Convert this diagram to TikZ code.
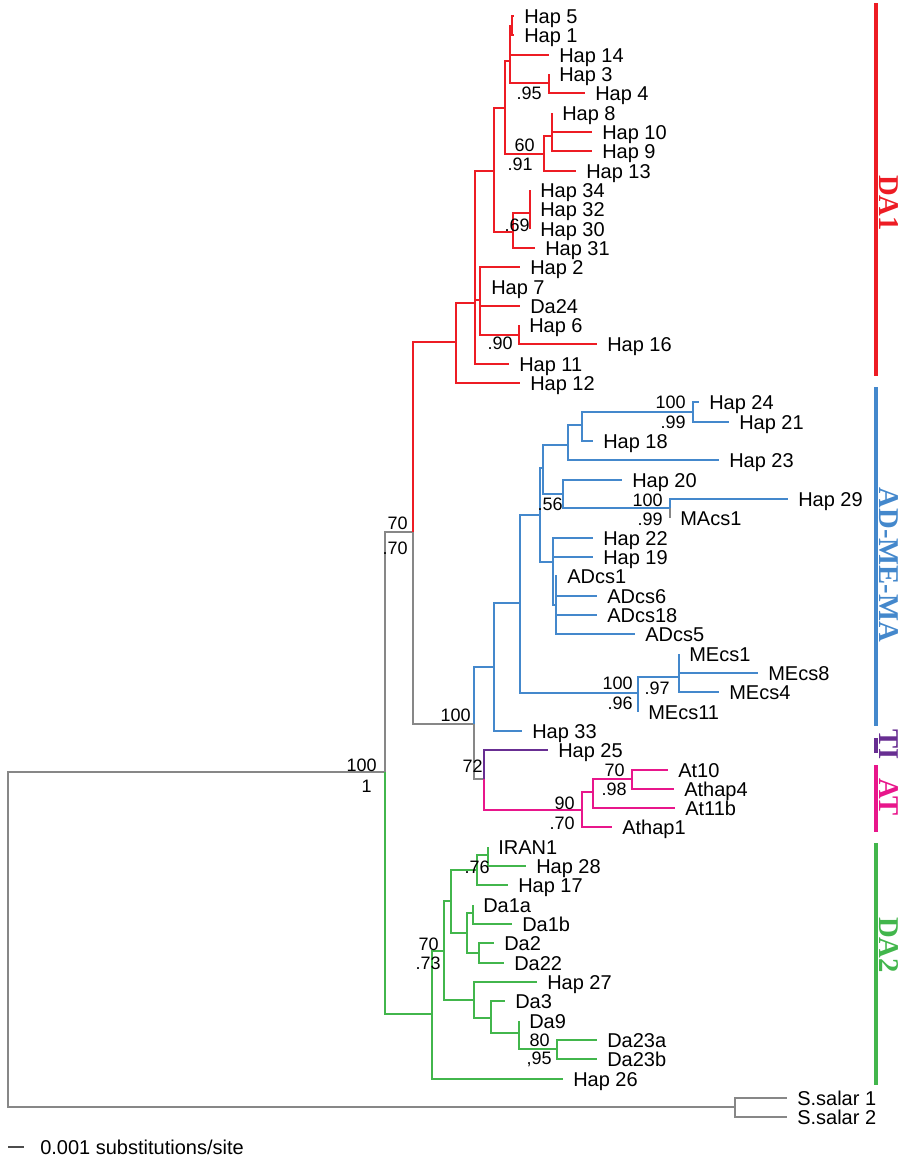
\documentclass[tikz,border=0pt]{standalone}
\usepackage{fontspec}
\setmainfont{Liberation Sans}
\newfontfamily\cladefont{Liberation Serif}
\usepackage{tikz}
\usetikzlibrary{positioning}

\definecolor{daone}{RGB}{237,28,36}
\definecolor{admema}{RGB}{68,136,204}
\definecolor{tiviolet}{RGB}{104,46,146}
\definecolor{atpink}{RGB}{232,22,139}
\definecolor{datwo}{RGB}{66,182,76}
\definecolor{outgray}{RGB}{135,135,135}

\begin{document}
\begin{tikzpicture}[x=0.75pt,y=-0.75pt,
  br/.style={line width=1.15pt},
  leaf/.style={anchor=west,inner xsep=7.5pt,inner ysep=0pt,text height=10.7pt,text depth=0pt,font=\fontsize{15}{15}\selectfont},
  boot/.style={anchor=east,inner sep=0pt,text height=9.7pt,text depth=0pt,font=\fontsize{13.5}{13.5}\selectfont},
  bar/.style={line width=3.6pt},
  clade/.style={rotate=-90,inner sep=0pt,font=\cladefont\bfseries\fontsize{21.5}{21.5}\selectfont}
]
  \useasboundingbox (0,0) rectangle (904,1161);

  % tips
  \node[leaf] (h5)   at (514,16)  {Hap 5};
  \node[leaf] (h1)   at (514,35)  {Hap 1};
  \node[leaf] (h14)  at (549,55)  {Hap 14};
  \node[leaf] (h3)   at (549,74)  {Hap 3};
  \node[leaf] (h4)   at (585,93)  {Hap 4};
  \node[leaf] (h8)   at (552,113) {Hap 8};
  \node[leaf] (h10)  at (592,132) {Hap 10};
  \node[leaf] (h9)   at (592,151) {Hap 9};
  \node[leaf] (h13)  at (576,171) {Hap 13};
  \node[leaf] (h34)  at (530,190) {Hap 34};
  \node[leaf] (h32)  at (530,209) {Hap 32};
  \node[leaf] (h30)  at (530,229) {Hap 30};
  \node[leaf] (h31)  at (535,248) {Hap 31};
  \node[leaf] (h2)   at (520,267) {Hap 2};
  \node[leaf] (h7)   at (481,287) {Hap 7};
  \node[leaf] (da24) at (520,306) {Da24};
  \node[leaf] (h6)   at (519,325) {Hap 6};
  \node[leaf] (h16)  at (597,344) {Hap 16};
  \node[leaf] (h11)  at (509,364) {Hap 11};
  \node[leaf] (h12)  at (520,383) {Hap 12};
  \node[leaf] (h24)  at (699,402) {Hap 24};
  \node[leaf] (h21)  at (729,422) {Hap 21};
  \node[leaf] (h18)  at (593,441) {Hap 18};
  \node[leaf] (h23)  at (719,460) {Hap 23};
  \node[leaf] (h20)  at (622,480) {Hap 20};
  \node[leaf] (h29)  at (788,499) {Hap 29};
  \node[leaf] (macs1) at (670,518) {MAcs1};
  \node[leaf] (h22)  at (593,538) {Hap 22};
  \node[leaf] (h19)  at (593,557) {Hap 19};
  \node[leaf] (adcs1)  at (557,576) {ADcs1};
  \node[leaf] (adcs6)  at (597,596) {ADcs6};
  \node[leaf] (adcs18) at (597,615) {ADcs18};
  \node[leaf] (adcs5)  at (635,634) {ADcs5};
  \node[leaf] (mecs1)  at (679,654) {MEcs1};
  \node[leaf] (mecs8)  at (758,673) {MEcs8};
  \node[leaf] (mecs4)  at (719,692) {MEcs4};
  \node[leaf] (mecs11) at (638,712) {MEcs11};
  \node[leaf] (h33)  at (522,731) {Hap 33};
  \node[leaf] (h25)  at (548,750) {Hap 25};
  \node[leaf] (at10)   at (668,770) {At10};
  \node[leaf] (athap4) at (674,789) {Athap4};
  \node[leaf] (at11b)  at (675,808) {At11b};
  \node[leaf] (athap1) at (612,827) {Athap1};
  \node[leaf] (iran1) at (488,847) {IRAN1};
  \node[leaf] (h28)  at (526,866) {Hap 28};
  \node[leaf] (h17)  at (508,885) {Hap 17};
  \node[leaf] (da1a) at (473,905) {Da1a};
  \node[leaf] (da1b) at (512,924) {Da1b};
  \node[leaf] (da2)  at (494,943) {Da2};
  \node[leaf] (da22) at (504,963) {Da22};
  \node[leaf] (h27)  at (537,982) {Hap 27};
  \node[leaf] (da3)  at (505,1001) {Da3};
  \node[leaf] (da9)  at (519,1021) {Da9};
  \node[leaf] (da23a) at (597,1040) {Da23a};
  \node[leaf] (da23b) at (597,1059) {Da23b};
  \node[leaf] (h26)  at (563,1079) {Hap 26};
  \node[leaf] (ss1)  at (787,1098) {S.salar 1};
  \node[leaf] (ss2)  at (787,1117) {S.salar 2};

  % internal nodes
  \coordinate (root) at (8,940);
  \coordinate (ing)  at (385,772);
  \coordinate (n70)  at (413,532);
  \coordinate (n100) at (474,724);
  \coordinate (n72)  at (484,779);
  \coordinate (s0)   at (735,1107);
  \coordinate (r0) at (456,342);
  \coordinate (r1) at (475,303);
  \coordinate (r2) at (494,171);
  \coordinate (r3) at (480,300);
  \coordinate (r4) at (505,108);
  \coordinate (r5) at (513,232);
  \coordinate (r6) at (510,61);
  \coordinate (r7) at (544,154);
  \coordinate (r8) at (512,26);
  \coordinate (r9) at (549,83);
  \coordinate (r10) at (552,136);
  \coordinate (r11) at (530,213);
  \coordinate (r12) at (519,335);
  \coordinate (b0) at (494,667);
  \coordinate (b1) at (520,603);
  \coordinate (b2) at (540,515);
  \coordinate (b3) at (543,468);
  \coordinate (b4) at (553,562);
  \coordinate (b5) at (568,445);
  \coordinate (b6) at (563,494);
  \coordinate (b7) at (582,425);
  \coordinate (b8) at (693,412);
  \coordinate (b9) at (670,508);
  \coordinate (b10) at (556,605);
  \coordinate (b11) at (638,693);
  \coordinate (b12) at (679,677);
  \coordinate (t1) at (582,810);
  \coordinate (t2) at (593,792);
  \coordinate (t3) at (632,779);
  \coordinate (g0) at (432,1014);
  \coordinate (g1) at (444,951);
  \coordinate (g2) at (451,901);
  \coordinate (g3) at (477,870);
  \coordinate (g4) at (488,855);
  \coordinate (g5) at (467,933);
  \coordinate (g6) at (473,913);
  \coordinate (g7) at (479,953);
  \coordinate (g8) at (474,1000);
  \coordinate (g9) at (491,1018);
  \coordinate (g10) at (519,1033);
  \coordinate (g11) at (557,1049);

  % branches
  \foreach \pa/\ch in {root/ing, root/s0, ing/n70, n70/n100, n100/n72, s0/ss1.west, s0/ss2.west, b9/macs1.west}
    \draw[br,outgray] (\pa) |- (\ch);
  \foreach \pa/\ch in {n70/r0, r0/r1, r0/h12.west, r1/r2, r1/r3, r1/h11.west, r2/r4, r2/r5,
      r4/r6, r4/r7, r6/r8, r6/h14.west, r6/r9, r8/h5.west, r8/h1.west, r9/h3.west, r9/h4.west,
      r7/r10, r7/h13.west, r10/h8.west, r10/h10.west, r10/h9.west, r5/r11, r5/h31.west,
      r11/h34.west, r11/h32.west, r11/h30.west, r3/h2.west, r3/h7.west, r3/da24.west, r3/r12,
      r12/h6.west, r12/h16.west}
    \draw[br,daone] (\pa) |- (\ch);
  \foreach \pa/\ch in {n100/b0, b0/b1, b0/h33.west, b1/b2, b1/b11, b2/b3, b2/b4, b3/b5, b3/b6,
      b5/b7, b5/h23.west, b7/b8, b7/h18.west, b8/h24.west, b8/h21.west, b6/h20.west, b6/b9,
      b9/h29.west, b4/h22.west, b4/h19.west, b4/b10, b10/adcs1.west, b10/adcs6.west,
      b10/adcs18.west, b10/adcs5.west, b11/b12, b11/mecs11.west, b12/mecs1.west,
      b12/mecs8.west, b12/mecs4.west}
    \draw[br,admema] (\pa) |- (\ch);
  \draw[br,tiviolet] (n72) |- (h25.west);
  \foreach \pa/\ch in {n72/t1, t1/t2, t1/athap1.west, t2/t3, t2/at11b.west, t3/at10.west, t3/athap4.west}
    \draw[br,atpink] (\pa) |- (\ch);
  \foreach \pa/\ch in {ing/g0, g0/g1, g0/h26.west, g1/g2, g1/g8, g2/g3, g2/g5, g3/g4, g3/h17.west,
      g4/iran1.west, g4/h28.west, g5/g6, g5/g7, g6/da1a.west, g6/da1b.west, g7/da2.west,
      g7/da22.west, g8/h27.west, g8/g9, g9/da3.west, g9/g10, g10/da9.west, g10/g11,
      g11/da23a.west, g11/da23b.west}
    \draw[br,datwo] (\pa) |- (\ch);

  % support values
  \node[boot] (sv1)  at (542,93)  {.95};
  \node[boot] (sv2)  at (535,145) {60};
  \node[boot] (sv3)  at (533,164) {.91};
  \node[boot] (sv4)  at (530,225) {.69};
  \node[boot] (sv5)  at (513,343) {.90};
  \node[boot] (sv6)  at (408,523) {70};
  \node[boot] (sv7)  at (408,548) {.70};
  \node[boot] (sv8)  at (686,402) {100};
  \node[boot] (sv9)  at (686,422) {.99};
  \node[boot] (sv10) at (563,504) {.56};
  \node[boot] (sv11) at (663,500) {100};
  \node[boot] (sv12) at (663,519) {.99};
  \node[boot] (sv13) at (633,683) {100};
  \node[boot] (sv14) at (633,703) {.96};
  \node[boot] (sv15) at (670,688) {.97};
  \node[boot] (sv16) at (471,715) {100};
  \node[boot] (sv17) at (483,766) {72};
  \node[boot] (sv18) at (625,770) {70};
  \node[boot] (sv19) at (627,789) {.98};
  \node[boot] (sv20) at (575,803) {90};
  \node[boot] (sv21) at (575,823) {.70};
  \node[boot] (sv22) at (377,765) {100};
  \node[boot] (sv23) at (372,786) {1};
  \node[boot] (sv24) at (490,867) {.76};
  \node[boot] (sv25) at (439,944) {70};
  \node[boot] (sv26) at (441,963) {.73};
  \node[boot] (sv27) at (550,1040) {80};
  \node[boot] (sv28) at (552,1058) {,95};

  % clade bars
  \draw[bar,daone]    (876,3)   -- (876,376);
  \draw[bar,admema]   (876,387) -- (876,726);
  \draw[bar,tiviolet] (876,738) -- (876,753);
  \draw[bar,atpink]   (876,765) -- (876,832);
  \draw[bar,datwo]    (876,843) -- (876,1085);
  \node[clade,daone]    (lda1) at (889,203) {DA1};
  \node[clade,admema]   (lad)  at (889,565) {AD-ME-MA};
  \node[clade,tiviolet] (lti)  at (889,745) {TI};
  \node[clade,atpink]   (lat)  at (889,797) {AT};
  \node[clade,datwo]    (lda2) at (889,945) {DA2};

  % scale
  \coordinate (sb) at (8,1147);
  \draw[line width=1pt,black!70] (sb) -- ++(16,0);
  \node[leaf,inner xsep=0pt] (sbl) at (40,1147) {0.001 substitutions/site};
\end{tikzpicture}
\end{document}
